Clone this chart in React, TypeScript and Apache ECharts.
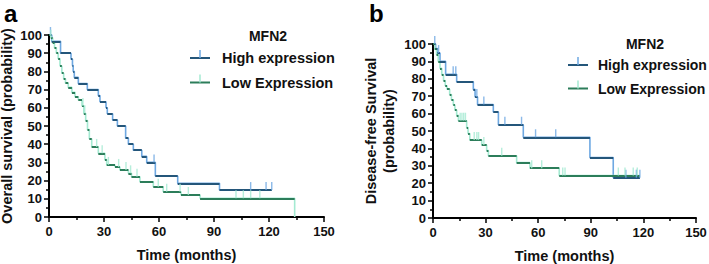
import React, { useEffect, useRef } from "react";
import * as echarts from "echarts";

// ---- Panel a: Overall survival ----
const aHighSteps: [number, number][] = [
  [0, 100], [1.5, 96.5], [6.3, 90], [12, 86.7], [12.8, 83.3], [13.2, 80], [13.8, 76.7],
  [16, 73.3], [20.9, 70], [26.9, 66.7], [27.8, 63.3], [31.1, 60], [31.8, 56.7],
  [34.7, 53.3], [37.3, 50], [41.8, 43.3], [43.3, 40], [46, 36.7], [50.6, 33.3],
  [53.3, 30], [58, 22.5], [70.2, 18.5], [93, 14.8],
];
const aHighEnd = 121.5;
const aHighCensor: [number, number][] = [
  [0.8, 100], [57.3, 30], [110, 14.8], [118.4, 14.8], [121.5, 14.8],
];

const aLowSteps: [number, number][] = [
  [0, 100], [1, 98.5], [2, 96], [3, 93], [4, 90], [5, 87], [6, 83], [7, 79], [8, 76],
  [9, 73.5], [10.5, 71.2], [12.5, 68.5], [14.2, 66], [16, 64.3], [18, 61], [19, 57],
  [20, 53], [21, 48], [22, 43], [23.3, 38.5], [26.9, 35], [30.5, 31.5], [31.5, 28.6],
  [36, 27.5], [38.7, 25.8], [43.3, 24], [45, 22.1], [49.6, 19.4], [56.9, 16.6],
  [62.3, 13.9], [72, 12.1], [82.4, 10.3], [134, 0],
];
const aLowEnd = 134;
const aLowCensor: [number, number][] = [
  [1, 98.5], [18.5, 61], [19.5, 57], [26, 38.5], [29, 35], [32.4, 28.6], [38, 27.5],
  [42, 25.8], [44.5, 24], [48, 22.1], [59.6, 16.6], [64.2, 13.9], [71.5, 13.9],
  [76, 12.1], [102, 10.3], [106, 10.3], [110, 10.3], [115, 10.3],
];

// ---- Panel b: Disease-free survival ----
const bHighSteps: [number, number][] = [
  [0, 100], [1.5, 97.4], [2.5, 94.8], [4, 90], [7.2, 82.6], [13.5, 78.3], [23, 73.9],
  [24, 69.6], [25.4, 65.2], [34.4, 60.9], [37.3, 53.6], [51.5, 46.4], [89.5, 34.8],
  [102.8, 23.2],
];
const bHighEnd = 118;
const bHighCensor: [number, number][] = [
  [1, 100], [3.2, 94.8], [11.5, 82.6], [13, 82.6], [25, 69.6], [29, 65.2], [41, 53.6],
  [50.5, 53.6], [58.5, 46.4], [70, 46.4], [110, 23.2], [116, 23.2], [118, 23.2],
];

const bLowSteps: [number, number][] = [
  [0, 100], [1, 97], [2, 94], [3, 90], [4, 86], [5, 82.4], [6, 79], [7, 76], [8, 74],
  [9.5, 71], [10.5, 68], [11.6, 65], [12.5, 62], [13.5, 59], [14.5, 55.9], [19.2, 52],
  [20, 48.5], [21, 44.8], [27.8, 42], [30.6, 38.8], [31.6, 35.8], [47.7, 31.8],
  [55.3, 28.6], [72, 24.4],
];
const bLowEnd = 118;
const bLowCensor: [number, number][] = [
  [15.5, 55.9], [16.5, 55.9], [17.5, 55.9], [18.5, 55.9], [23.5, 44.8], [25, 44.8],
  [26, 44.8], [29, 42], [39.2, 35.8], [56.3, 28.6], [62, 28.6], [74, 24.4], [75.3, 24.4],
  [105.7, 24.4], [109.5, 24.4], [114.2, 24.4], [116.5, 24.4],
];

const xTicks = [0, 30, 60, 90, 120, 150];
const yTicks = [0, 10, 20, 30, 40, 50, 60, 70, 80, 90, 100];

const HIGH_DARK = "#24567a";
const HIGH_LIGHT = "#6ea8e2";
const LOW_DARK = "#2c7d5a";
const LOW_LIGHT = "#a4ead2";
const FONT = "'Liberation Sans', Arial, Helvetica, sans-serif";

function stepPoints(steps: [number, number][], end: number) {
  const pts = steps.map((p) => [p[0], p[1]]);
  const last = steps[steps.length - 1];
  if (end > last[0]) pts.push([end, last[1]]);
  return pts;
}
function horizSegments(steps: [number, number][], end: number) {
  return steps.map((p, i) => ({
    coords: [
      [p[0], p[1]],
      [i + 1 < steps.length ? steps[i + 1][0] : end, p[1]],
    ],
  }));
}

function curveSeries(
  steps: [number, number][],
  end: number,
  censor: [number, number][],
  dark: string,
  light: string,
  idx: number
) {
  return [
    {
      type: "line",
      xAxisIndex: idx,
      yAxisIndex: idx,
      step: "end",
      symbol: "none",
      data: stepPoints(steps, end),
      lineStyle: { color: light, width: 1.6 },
      z: 2,
      clip: false,
    },
    {
      type: "lines",
      coordinateSystem: "cartesian2d",
      xAxisIndex: idx,
      yAxisIndex: idx,
      data: horizSegments(steps, end),
      lineStyle: { color: dark, width: 2, opacity: 1 },
      z: 3,
      clip: false,
    },
    {
      type: "scatter",
      xAxisIndex: idx,
      yAxisIndex: idx,
      data: censor,
      symbol: "rect",
      symbolSize: [1.4, 8],
      symbolOffset: [0, "-50%"],
      itemStyle: { color: light },
      z: 4,
      clip: false,
    },
  ];
}

function xAxis(idx: number) {
  return {
    type: "value",
    gridIndex: idx,
    min: xTicks[0],
    max: xTicks[xTicks.length - 1],
    interval: 30,
    name: "Time (months)",
    nameLocation: "middle",
    nameGap: 30,
    nameTextStyle: { fontFamily: FONT, fontWeight: "bold", fontSize: 14.5, color: "#111" },
    axisLine: { show: true, onZero: false, lineStyle: { color: "#000", width: 2 } },
    axisTick: { show: true, length: 5, lineStyle: { color: "#000", width: 1.5 } },
    minorTick: { show: true, splitNumber: 2, length: 3, lineStyle: { color: "#000", width: 1.5 } },
    splitLine: { show: false },
    axisLabel: { fontFamily: FONT, fontWeight: "bold", fontSize: 13, color: "#111", margin: 8 },
  };
}

function yAxis(idx: number, name: string, gap: number) {
  return {
    type: "value",
    gridIndex: idx,
    min: yTicks[0],
    max: yTicks[yTicks.length - 1],
    interval: 10,
    name,
    nameLocation: "middle",
    nameGap: gap,
    nameTextStyle: { fontFamily: FONT, fontWeight: "bold", fontSize: 14.5, color: "#111", lineHeight: 18 },
    axisLine: { show: true, onZero: false, lineStyle: { color: "#000", width: 2 } },
    axisTick: { show: true, length: 5, lineStyle: { color: "#000", width: 1.5 } },
    minorTick: { show: true, splitNumber: 2, length: 3, lineStyle: { color: "#000", width: 1.5 } },
    splitLine: { show: false },
    axisLabel: { fontFamily: FONT, fontWeight: "bold", fontSize: 13, color: "#111", margin: 7 },
  };
}

function legendGraphics(
  cx: number, titleY: number, symX: number, textX: number, y1: number, y2: number, size: number
) {
  const txt = (x: number, y: number, s: string, fs: number, align: string) => ({
    type: "text",
    x,
    y,
    style: {
      text: s,
      fontFamily: FONT,
      fontWeight: "bold",
      fontSize: fs,
      fill: "#111",
      align,
      verticalAlign: "middle",
    },
  });
  const sym = (y: number, dark: string, light: string) => [
    { type: "line", shape: { x1: symX, y1: y, x2: symX + 20, y2: y }, style: { stroke: dark, lineWidth: 2 } },
    { type: "line", shape: { x1: symX + 10, y1: y, x2: symX + 10, y2: y - 8 }, style: { stroke: light, lineWidth: 1.5 } },
  ];
  return [
    txt(cx, titleY, "MFN2", 14, "center"),
    ...sym(y1, HIGH_DARK, HIGH_LIGHT),
    txt(textX, y1, "High expression", size, "left"),
    ...sym(y2, LOW_DARK, LOW_LIGHT),
    txt(textX, y2, "Low Expression", size, "left"),
  ];
}

export default function App() {
  const ref = useRef<HTMLDivElement>(null);
  useEffect(() => {
    if (!ref.current) return;
    const chart = echarts.init(ref.current, undefined, { renderer: "svg" });
    chart.setOption({
      animation: false,
      backgroundColor: "#fff",
      grid: [
        { left: 49, top: 35, width: 275, height: 182, containLabel: false, outerBoundsMode: "none" },
        { left: 433, top: 44, width: 263, height: 174, containLabel: false, outerBoundsMode: "none" },
      ],
      xAxis: [xAxis(0), xAxis(1)],
      yAxis: [
        yAxis(0, "Overall survival (probability)", 30),
        yAxis(1, "Disease-free Survival\n(probability)", 35),
      ],
      series: [
        ...curveSeries(aHighSteps, aHighEnd, aHighCensor, HIGH_DARK, HIGH_LIGHT, 0),
        ...curveSeries(aLowSteps, aLowEnd, aLowCensor, LOW_DARK, LOW_LIGHT, 0),
        ...curveSeries(bHighSteps, bHighEnd, bHighCensor, HIGH_DARK, HIGH_LIGHT, 1),
        ...curveSeries(bLowSteps, bLowEnd, bLowCensor, LOW_DARK, LOW_LIGHT, 1),
      ],
      graphic: [
        {
          type: "text",
          x: 4,
          y: 13,
          style: {
            text: "a", fontFamily: FONT, fontWeight: "bold", fontSize: 24, fill: "#000",
            verticalAlign: "middle",
          },
        },
        {
          type: "text",
          x: 369,
          y: 13,
          style: {
            text: "b", fontFamily: FONT, fontWeight: "bold", fontSize: 24, fill: "#000",
            verticalAlign: "middle",
          },
        },
        ...legendGraphics(268, 36, 190, 222, 58, 82.5, 14.5),
        ...legendGraphics(645, 44, 568, 598, 65, 88.5, 14),
      ],
    });
    return () => chart.dispose();
  }, []);
  return (
    <div
      ref={ref}
      style={{ position: "fixed", left: 0, top: 0, width: 709, height: 264, background: "#fff" }}
    />
  );
}
